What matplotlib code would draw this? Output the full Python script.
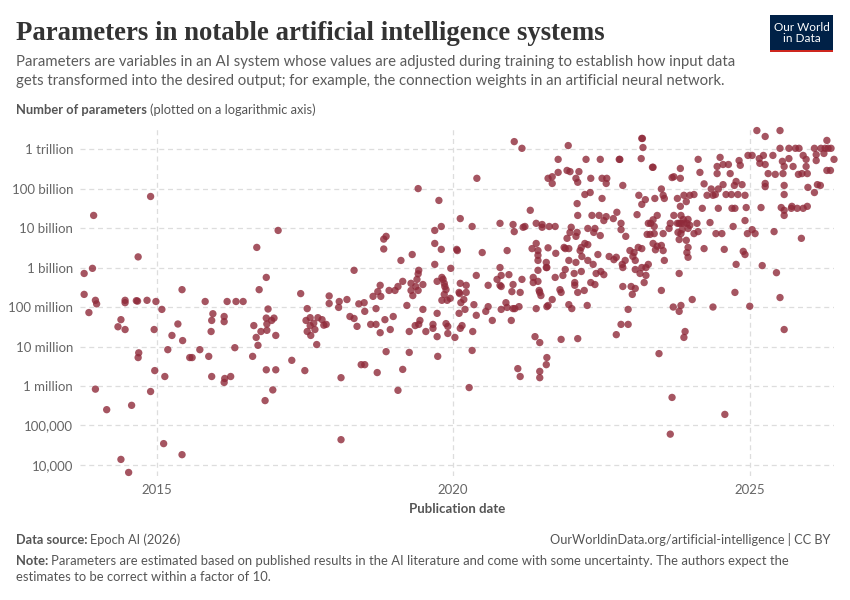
import numpy as np
import matplotlib.pyplot as plt
from matplotlib.patches import Rectangle

# publication date (decimal year) and log10(number of parameters)
years = [
    2013.78, 2013.92, 2013.94, 2013.78, 2013.97, 2013.99, 2013.86, 2013.97, 2014.16, 2014.35,
    2014.40, 2014.47, 2014.47, 2014.47, 2014.40, 2014.53, 2014.58, 2014.66, 2014.68, 2014.69,
    2014.70, 2014.69, 2014.84, 2014.90, 2014.90, 2014.96, 2014.97, 2014.99, 2015.09, 2015.14,
    2015.12, 2015.19, 2015.26, 2015.36, 2015.43, 2015.44, 2015.43, 2015.56, 2015.60, 2015.73,
    2015.82, 2015.88, 2015.92, 2015.93, 2015.95, 2015.93, 2016.14, 2016.14, 2016.15, 2016.14,
    2016.19, 2016.25, 2016.32, 2016.34, 2016.46, 2016.62, 2016.64, 2016.69, 2016.73, 2016.68,
    2016.71, 2016.76,
    2016.85, 2016.88, 2016.85, 2016.86, 2016.86, 2016.83, 2016.85, 2016.94, 2016.98, 2017.01,
    2017.01, 2016.96, 2017.05, 2017.28, 2017.43, 2017.50, 2017.54, 2017.52, 2017.59, 2017.54,
    2017.59, 2017.60, 2017.65, 2017.67, 2017.70, 2017.72, 2017.79, 2017.82, 2017.86, 2017.91,
    2017.91, 2018.08, 2018.07, 2018.11, 2018.11, 2018.21, 2018.26, 2018.33, 2018.33, 2018.38,
    2018.41, 2018.45, 2018.51, 2018.50, 2018.51, 2018.61, 2018.65, 2018.70, 2018.70, 2018.72,
    2018.73, 2018.77, 2018.78, 2018.77, 2018.83, 2018.83, 2018.87, 2018.85, 2018.87, 2018.92,
    2018.94, 2018.99, 2019.02, 2019.07, 2019.07, 2019.12, 2019.15, 2019.15, 2019.22, 2019.26,
    2019.26, 2019.31, 2019.29, 2019.29, 2019.32, 2019.36, 2019.37, 2019.39, 2019.41, 2019.42,
    2019.41, 2019.41, 2019.44, 2019.42, 2019.49, 2019.49, 2019.54, 2019.66, 2019.66, 2019.69,
    2019.69, 2019.69, 2019.73, 2019.73, 2019.73, 2019.74, 2019.76, 2019.80, 2019.80, 2019.81,
    2019.83, 2019.85, 2019.86, 2019.81, 2019.85, 2019.88, 2019.90, 2019.88, 2019.91, 2019.91,
    2019.95, 2019.96, 2020.03, 2020.06,
    2020.12, 2020.07, 2020.12, 2020.10, 2020.11, 2020.13, 2020.10, 2020.12, 2020.15, 2020.18,
    2020.20, 2020.22, 2020.22, 2020.27, 2020.32, 2020.32, 2020.33, 2020.35, 2020.39, 2020.39,
    2020.40, 2020.49, 2020.55, 2020.59, 2020.59, 2020.66, 2020.74, 2020.79, 2020.79, 2020.81,
    2020.81, 2020.79, 2020.81, 2020.89, 2020.91, 2020.91, 2020.94, 2020.98, 2020.99, 2021.01,
    2021.01, 2021.01, 2021.03, 2021.03, 2021.04, 2021.09, 2021.11, 2021.13, 2021.13, 2021.16,
    2021.16, 2021.18, 2021.21, 2021.30, 2021.33, 2021.35, 2021.35, 2021.38, 2021.40, 2021.40,
    2021.40, 2021.43, 2021.43, 2021.43, 2021.43, 2021.43, 2021.45, 2021.46, 2021.48, 2021.46,
    2021.46, 2021.46, 2021.50, 2021.50, 2021.57, 2021.57, 2021.58, 2021.58, 2021.60, 2021.60,
    2021.57, 2021.58, 2021.62, 2021.67, 2021.72, 2021.72, 2021.73, 2021.77, 2021.80, 2021.82,
    2021.82, 2021.60, 2021.67, 2021.67, 2021.77, 2021.85, 2021.87, 2021.89, 2021.89, 2021.92,
    2021.92, 2021.94, 2021.95, 2021.95, 2021.95, 2021.97, 2021.99, 2021.97, 2022.00, 2022.04,
    2022.05, 2022.05, 2022.07, 2022.07, 2022.07, 2022.09, 2022.10, 2022.09, 2022.10, 2022.10,
    2022.10, 2022.12, 2022.14, 2022.16, 2022.16, 2022.17, 2022.21, 2022.22, 2022.22, 2022.24,
    2022.26, 2022.27, 2022.27, 2022.27, 2022.31, 2022.32, 2022.32, 2022.34, 2022.36, 2022.37,
    2022.39, 2022.39, 2022.41, 2022.44, 2022.46, 2022.48, 2022.48, 2022.49, 2022.51, 2022.51,
    2022.54, 2022.54, 2022.58, 2022.58, 2022.59, 2022.63, 2022.70, 2022.71, 2022.75, 2022.75,
    2022.76, 2022.80, 2022.81, 2022.83, 2022.83, 2022.83, 2022.85, 2022.86, 2022.86, 2022.86,
    2022.90, 2022.91, 2022.95, 2022.95, 2022.98, 2023.00, 2023.02, 2023.03, 2023.05, 2023.07,
    2023.07, 2023.07, 2023.10, 2023.12, 2023.13, 2023.15, 2023.17, 2023.18, 2023.19, 2023.20,
    2023.18, 2023.18, 2023.18, 2023.22, 2023.24, 2023.25, 2023.25, 2023.27, 2023.29, 2023.29,
    2023.36, 2023.37, 2023.40, 2023.37, 2023.44, 2023.33, 2023.39, 2023.32, 2023.39, 2023.37,
    2023.41, 2023.44, 2023.51, 2023.54, 2023.56, 2023.51, 2023.51, 2023.54, 2023.56, 2023.54,
    2023.64, 2023.66, 2023.69, 2023.72, 2023.72, 2023.78, 2023.78, 2023.79, 2023.81, 2023.83,
    2023.83, 2023.83, 2023.84, 2023.84, 2023.86, 2023.84, 2023.81, 2023.88, 2023.89, 2023.89,
    2023.93, 2023.93, 2023.94, 2023.96, 2023.96, 2023.96, 2023.94, 2023.96, 2023.81, 2023.99,
    2023.99, 2024.03, 2024.06, 2024.06, 2024.11, 2024.13, 2024.13, 2024.16, 2024.20, 2024.23,
    2024.23, 2024.28, 2024.33, 2024.35, 2024.38, 2024.42, 2024.43, 2024.45, 2024.45, 2024.47,
    2024.47, 2024.50, 2024.53, 2024.55, 2024.55, 2024.57, 2024.60, 2024.64, 2024.67, 2024.69,
    2024.70, 2024.72, 2024.74, 2024.75, 2024.77, 2024.77, 2024.75, 2024.80, 2024.82, 2024.84,
    2024.87, 2024.89, 2024.92, 2024.92, 2024.92, 2024.94, 2024.96, 2024.97, 2025.04, 2025.04,
    2025.09, 2025.12, 2025.16, 2025.17, 2025.19, 2025.21, 2025.23, 2025.26, 2025.26, 2025.26,
    2025.26, 2025.31, 2025.39, 2025.41, 2025.43, 2025.45, 2025.51, 2025.51, 2025.51, 2025.53,
    2025.55, 2025.56, 2025.58, 2025.58, 2025.58, 2025.58, 2025.58, 2025.66, 2025.66, 2025.70,
    2025.71, 2025.73, 2025.77, 2025.80, 2025.82, 2025.83, 2025.87, 2025.88, 2025.90, 2025.90,
    2025.95, 2025.95, 2025.97, 2025.97, 2025.98, 2026.09, 2026.09, 2026.12, 2026.12, 2026.14,
    2026.19, 2026.20, 2026.25, 2026.27, 2026.30, 2026.32, 2026.30, 2026.37, 2026.36, 2026.42,
    2023.71, 2023.81, 2024.38, 2025.00, 2023.91, 2023.89, 2025.58, 2023.47, 2023.69, 2024.58,
    2023.66, 2023.84,
]
log_params = [
    8.85, 8.98, 10.32, 8.32, 8.17, 8.08, 7.86, 5.92, 5.40, 7.50,
    7.68, 7.43, 8.17, 8.11, 4.14, 3.81, 5.51, 8.16, 8.15, 9.27,
    6.84, 6.72, 8.17, 10.80, 5.86, 7.43, 6.39, 8.14, 7.94, 6.24,
    4.54, 6.92, 7.28, 7.57, 8.44, 7.15, 4.26, 6.72, 6.72, 6.92,
    8.14, 6.75, 7.38, 7.66, 7.83, 6.24, 7.76, 7.63, 6.19, 6.09,
    8.14, 6.24, 6.97, 8.14, 8.14, 6.75, 7.53, 9.51, 8.44, 7.23,
    7.03, 7.38,
    8.75, 7.95, 7.72, 7.57, 7.41, 5.63, 6.41, 7.66, 7.72, 7.28,
    6.41, 5.90, 9.94, 6.65, 8.34, 6.39, 7.96, 7.66, 7.73, 7.38,
    7.53, 7.28, 7.59, 7.43, 7.05, 7.73, 7.68, 7.54, 7.56, 8.28,
    8.09, 8.14, 7.99, 6.21, 4.64, 8.19, 7.76, 8.93, 7.71, 7.51,
    8.08, 6.54, 6.54, 8.11, 7.89, 7.56, 8.27, 7.96, 7.56, 6.34,
    8.39, 8.55, 8.27, 7.35, 9.47, 9.72, 9.79, 7.68, 6.87, 8.42,
    7.43, 7.76, 8.42, 8.52, 5.89, 9.18, 8.65, 6.42, 8.04, 7.38,
    6.85, 9.33, 8.60, 8.42, 8.29, 7.53, 8.52, 8.70, 8.84, 8.93,
    11.00, 8.42, 7.66, 7.56, 8.57, 7.94, 7.38, 7.56, 7.46, 9.94,
    9.61, 9.08, 8.65, 7.84, 7.25, 6.75, 10.70, 10.04, 9.46, 8.75,
    8.70, 8.60, 8.52, 8.17, 8.32, 8.44, 8.17, 7.58, 7.51, 7.33,
    8.22, 8.98, 7.23, 9.46,
    10.24, 9.43, 8.60, 8.37, 8.34, 8.11, 7.84, 7.46, 7.53, 8.19,
    7.94, 8.55, 8.37, 5.96, 10.04, 6.90, 7.38, 8.06, 7.79, 8.80,
    11.26, 9.38, 7.89, 8.01, 8.55, 7.66, 8.70, 9.00, 8.55, 8.80,
    8.52, 10.12, 7.94, 8.11, 9.43, 7.99, 8.82, 7.66, 8.39, 8.57,
    7.96, 10.09, 9.91, 12.19, 7.96, 6.44, 8.01, 6.24, 8.37, 8.70,
    12.02, 10.02, 10.04, 10.45, 9.48, 8.75, 8.62, 7.25, 7.96, 9.61,
    10.12, 9.43, 9.31, 9.18, 8.93, 8.65, 8.42, 8.37, 8.29, 7.10,
    6.37, 6.21, 10.09, 10.02, 9.13, 9.00, 9.00, 8.01, 9.50, 8.04,
    6.54, 6.72, 10.04, 8.19, 10.04, 8.75, 9.36, 11.74, 8.44, 8.37,
    7.18, 11.26, 11.30, 11.13, 11.41, 8.80, 9.51, 9.48, 8.95, 11.46,
    9.74, 12.09, 9.48, 9.18, 8.06, 11.43, 10.02, 9.89, 7.96, 8.85,
    8.62, 8.55, 9.13, 11.26, 9.79, 9.89, 11.16, 10.62, 10.32, 8.37,
    7.20, 11.43, 9.43, 9.51, 8.90, 9.28, 8.42, 10.85, 9.61, 11.74,
    8.04, 9.58, 9.18, 9.99, 10.90, 11.26, 8.62, 10.32, 9.08, 9.89,
    9.99, 8.57, 8.85, 9.33, 10.32, 11.74, 9.81, 8.90, 11.26, 10.75,
    10.19, 8.82, 10.29, 11.13, 11.26, 9.28, 10.24, 9.20, 9.26, 7.30,
    10.40, 11.74, 11.74, 10.12, 9.96, 7.56, 9.08, 9.00, 8.52, 11.08,
    9.18, 9.79, 7.94, 7.56, 9.43, 8.52, 8.32, 9.28, 9.38, 9.18,
    8.47, 8.95, 10.34, 9.51, 10.83, 8.85, 11.76, 12.27, 12.27, 12.04,
    10.60, 9.48, 9.00, 8.62, 10.72, 9.00, 8.80, 9.84, 10.12, 9.08,
    11.54, 10.21, 10.75, 11.54, 10.32, 10.12, 10.04, 9.84, 9.86, 9.61,
    9.45, 9.54, 9.56, 9.43, 9.18, 8.42, 10.99, 10.83, 10.75, 9.86,
    9.99, 10.12, 11.28, 11.30, 10.32, 10.75, 10.12, 9.89, 10.12, 11.51,
    11.26, 10.55, 10.32, 10.12, 9.96, 9.86, 9.71, 10.22, 10.12, 10.83,
    10.67, 9.69, 10.12, 10.22, 9.99, 9.51, 9.38, 9.26, 8.85, 10.83,
    10.07, 8.19, 10.85, 9.86, 10.12, 11.74, 9.91, 11.41, 10.50, 11.12,
    9.48, 10.83, 10.14, 10.99, 10.83, 10.85, 9.86, 11.56, 11.38, 10.99,
    10.50, 11.79, 9.86, 11.61, 11.10, 9.46, 10.85, 11.61, 11.38, 10.85,
    10.50, 10.04, 11.08, 10.50, 11.18, 9.08, 8.37, 10.85, 11.71, 11.59,
    11.10, 9.41, 9.33, 10.19, 10.83, 10.52, 9.86, 11.84, 11.84, 9.96,
    9.86, 12.47, 11.76, 11.64, 10.52, 9.05, 11.84, 12.32, 11.61, 11.13,
    11.05, 11.38, 11.84, 9.91, 11.36, 8.87, 12.47, 12.02, 8.24, 10.52,
    11.69, 11.38, 11.56, 11.08, 10.85, 10.45, 10.32, 12.02, 11.76, 10.50,
    10.55, 11.56, 12.02, 10.50, 11.36, 12.02, 9.74, 11.38, 11.84, 10.50,
    11.74, 11.56, 11.38, 10.55, 11.03, 12.02, 10.90, 11.86, 11.71, 11.10,
    11.08, 12.02, 11.89, 12.02, 12.22, 12.02, 11.46, 12.02, 11.46, 11.74,
    8.00, 7.89, 8.00, 8.02, 7.38, 7.23, 7.43, 6.82, 5.71, 5.28,
    4.78, 8.04,
]

tick_vals = [1e4, 1e5, 1e6, 1e7, 1e8, 1e9, 1e10, 1e11, 1e12]
tick_labels = ['10,000', '100,000', '1 million', '10 million', '100 million',
               '1 billion', '10 billion', '100 billion', '1 trillion']
year_ticks = [2015, 2020, 2025]

plt.rcParams['font.family'] = ['Lato', 'DejaVu Sans']

W, H = 850, 600
fig = plt.figure(figsize=(8.5, 6), dpi=100)
ax = fig.add_axes([80 / W, 1 - 476 / H, 754 / W, 349 / H])

params = 10 ** np.array(log_params)
ax.scatter(years, params, s=28, color='#8f2a3a', alpha=0.8, edgecolors='none', clip_on=False, zorder=3)

ax.set_yscale('log')
ax.set_xlim(2013.71, 2026.42)
ax.set_ylim(10 ** 3.72, 10 ** 12.56)
ax.set_yticks(tick_vals)
ax.set_yticklabels(tick_labels)
ax.yaxis.set_minor_locator(plt.NullLocator())
ax.set_xticks(year_ticks)
ax.set_xticklabels([str(y) for y in year_ticks])
ax.tick_params(length=0, labelsize=9.5, colors='#666666', pad=6)
ax.tick_params(axis='y', pad=5)
for s in ax.spines.values():
    s.set_visible(False)
ax.grid(True, color='#dddddd', linestyle=(0, (4, 3)), linewidth=0.9)
ax.set_axisbelow(True)
ax.set_xlabel('Publication date', fontsize=9.5, color='#555555', fontweight='bold', labelpad=5)


def px(x, y):
    return x / W, 1 - y / H


def two_part(x, y, bold, normal, size, color):
    r = fig.canvas.get_renderer()
    t1 = fig.text(*px(x, y), bold, fontsize=size, color=color, fontweight='bold', va='baseline')
    bb = t1.get_window_extent(r)
    fig.text(bb.x1 / W + 3 / W, 1 - y / H, normal, fontsize=size, color=color, va='baseline')


fig.text(*px(16, 40), 'Parameters in notable artificial intelligence systems',
         family='Liberation Serif', fontsize=19.3, fontweight='bold', color='#333333', va='baseline')
fig.text(*px(16, 66), 'Parameters are variables in an AI system whose values are adjusted during training to establish how input data',
         fontsize=10.75, color='#5b5b5b', va='baseline')
fig.text(*px(16, 85), 'gets transformed into the desired output; for example, the connection weights in an artificial neural network.',
         fontsize=10.75, color='#5b5b5b', va='baseline')
two_part(16, 114, 'Number of parameters', '(plotted on a logarithmic axis)', 9.3, '#555555')

# logo
fig.patches.append(Rectangle(px(770, 52), 63 / W, 37 / H, transform=fig.transFigure,
                             facecolor='#002147', edgecolor='none'))
fig.patches.append(Rectangle(px(770, 52), 63 / W, 2.5 / H, transform=fig.transFigure,
                             facecolor='#ce261e', edgecolor='none'))
fig.text(*px(801.5, 33), 'Our World\nin Data', fontsize=8.5, color='white', ha='center', va='center',
         linespacing=1.1)

two_part(16, 544, 'Data source:', 'Epoch AI (2026)', 9.2, '#555555')
fig.text(*px(830, 544), 'OurWorldinData.org/artificial-intelligence | CC BY', fontsize=9.2,
         color='#555555', ha='right', va='baseline')
two_part(16, 565, 'Note:', 'Parameters are estimated based on published results in the AI literature and come with some uncertainty. The authors expect the',
         9.4, '#555555')
fig.text(*px(16, 581), 'estimates to be correct within a factor of 10.', fontsize=9.4, color='#555555', va='baseline')

fig.savefig('out.png', dpi=100)
